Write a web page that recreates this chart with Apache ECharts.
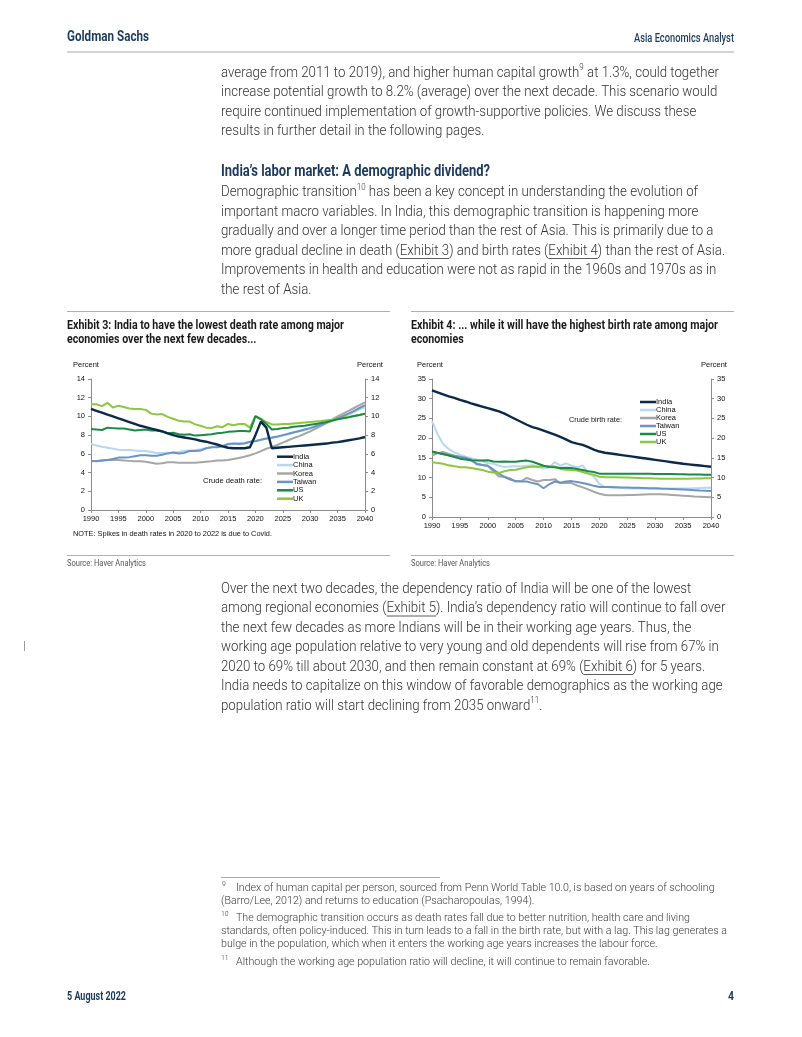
<!DOCTYPE html>
<html><head><meta charset="utf-8">
<script src="https://cdn.jsdelivr.net/npm/echarts@6/dist/echarts.min.js"></script>
<style>html,body{margin:0;padding:0;background:#fff}#c{width:802px;height:1037px}</style>
</head><body><div id="c"></div><script>
// ---------- DATA ----------
const years = [1990,1991,1992,1993,1994,1995,1996,1997,1998,1999,2000,2001,2002,2003,2004,2005,2006,2007,2008,2009,2010,2011,2012,2013,2014,2015,2016,2017,2018,2019,2020,2021,2022,2023,2024,2025,2026,2027,2028,2029,2030,2031,2032,2033,2034,2035,2036,2037,2038,2039,2040];
const seriesNames = ['India','China','Korea','Taiwan','US','UK'];

const deathIndia = [10.8,10.6,10.4,10.2,10.0,9.8,9.6,9.4,9.2,9.0, 8.85,8.7,8.55,8.4,8.2,8.0,7.85,7.75,7.65,7.55, 7.4,7.3,7.15,7.0,6.8,6.65,6.6,6.6,6.6,6.7, 8.0,9.45,8.8,6.6,6.65,6.7,6.75,6.8,6.85,6.9, 6.95,7.0,7.05,7.1,7.2,7.25,7.35,7.45,7.55,7.65,7.8];
const deathChina = [7.05,6.9,6.75,6.65,6.55,6.45,6.4,6.4,6.35,6.3, 6.3,6.2,6.1,6.1,6.1,6.15,6.2,6.3,6.35,6.4, 6.5,6.6,6.7,6.8,6.9,7.0,7.1,7.15,7.2,7.3, 7.4,7.5,7.6,7.7,7.8,7.95,8.1,8.25,8.4,8.55, 8.7,8.9,9.1,9.3,9.5,9.7,9.95,10.2,10.45,10.75,11.0];
const deathKorea = [5.2,5.25,5.3,5.35,5.35,5.35,5.3,5.25,5.2,5.2, 5.15,5.05,4.95,5.0,5.1,5.1,5.05,5.05,5.05,5.05, 5.1,5.15,5.2,5.3,5.3,5.35,5.45,5.55,5.7,5.85, 6.05,6.3,6.55,6.75,6.95,7.2,7.45,7.7,7.9,8.15, 8.4,8.7,9.0,9.3,9.65,10.0,10.3,10.6,10.9,11.2,11.5];
const deathTaiwan = [5.25,5.2,5.3,5.35,5.45,5.6,5.6,5.65,5.75,5.85, 5.85,5.8,5.8,5.9,6.05,6.15,6.05,6.1,6.3,6.3, 6.35,6.6,6.7,6.7,6.8,7.05,7.1,7.05,7.1,7.3, 7.35,7.5,7.65,7.75,7.85,8.0,8.15,8.3,8.45,8.6, 8.75,8.95,9.15,9.35,9.55,9.8,10.05,10.3,10.6,10.9,11.2];
const deathUS = [8.65,8.6,8.55,8.8,8.75,8.7,8.7,8.6,8.5,8.55, 8.6,8.5,8.5,8.4,8.2,8.25,8.1,8.05,8.1,7.95, 8.0,8.05,8.1,8.2,8.25,8.35,8.4,8.45,8.45,8.4, 10.0,9.7,9.2,8.6,8.65,8.75,8.8,8.9,8.95,9.0, 9.1,9.2,9.3,9.4,9.55,9.7,9.8,9.9,10.05,10.15,10.3];
const deathUK = [11.3,11.3,11.1,11.45,10.95,11.15,11.0,10.85,10.8,10.8, 10.7,10.3,10.2,10.25,9.95,9.75,9.55,9.45,9.45,9.15, 9.0,8.8,8.75,8.95,8.85,9.2,9.05,9.2,9.2,8.8, 10.05,9.75,9.4,9.15,9.15,9.2,9.2,9.25,9.3,9.35, 9.4,9.45,9.5,9.6,9.65,9.75,9.85,9.95,10.05,10.15,10.3];

const birthIndia = [32.1,31.6,31.1,30.6,30.2,29.7,29.3,28.8,28.4,28.0, 27.6,27.2,26.8,26.2,25.5,24.8,24.1,23.4,22.8,22.4, 21.9,21.4,20.9,20.3,19.7,19.0,18.6,18.3,17.7,17.1, 16.6,16.3,16.1,15.9,15.7,15.5,15.3,15.1,14.9,14.7, 14.5,14.3,14.1,13.9,13.7,13.5,13.35,13.2,13.05,12.9,12.75];
const birthChina = [24.3,21.0,18.5,17.2,16.4,15.8,15.3,14.9,14.6,14.2, 13.7,13.5,13.0,12.7,12.8,12.9,12.9,13.0,13.1,12.9, 12.3,12.6,13.9,13.0,13.6,13.0,12.6,13.1,11.1,10.3, 8.4,7.6,7.5,7.4,7.35,7.3,7.25,7.2,7.2,7.15, 7.15,7.15,7.15,7.2,7.2,7.25,7.25,7.3,7.35,7.4,7.45];
const birthKorea = [15.6,16.2,16.5,16.0,15.6,15.3,14.8,14.3,13.6,13.2, 13.0,11.6,10.3,10.2,9.8,9.0,9.1,9.9,9.4,9.0, 9.4,9.4,9.6,8.6,8.6,8.6,8.0,7.5,7.0,6.4, 5.9,5.6,5.5,5.5,5.5,5.55,5.6,5.65,5.7,5.75, 5.8,5.75,5.7,5.6,5.5,5.4,5.3,5.2,5.15,5.1,5.0];
const birthTaiwan = [16.5,16.2,15.9,15.7,15.5,15.2,15.0,14.6,13.4,13.2, 13.0,12.0,11.0,10.1,9.5,9.1,9.0,9.0,8.6,8.3, 7.3,8.3,9.0,8.7,9.0,9.1,8.9,8.6,8.3,7.9, 7.6,7.6,7.6,7.55,7.5,7.5,7.45,7.4,7.35,7.3, 7.3,7.2,7.15,7.1,7.05,7.0,6.9,6.8,6.7,6.65,6.6];
const birthUS = [16.6,16.3,16.0,15.6,15.2,14.8,14.6,14.4,14.3,14.3, 14.4,14.1,14.0,14.1,14.0,14.0,14.2,14.3,14.0,13.5, 13.0,12.7,12.6,12.4,12.5,12.4,12.2,11.9,11.6,11.4, 11.0,11.0,11.0,11.0,11.0,11.0,11.0,10.95,10.95,10.95, 10.9,10.9,10.9,10.9,10.85,10.85,10.8,10.8,10.75,10.7,10.7];
const birthUK = [13.9,13.7,13.5,13.1,12.9,12.6,12.6,12.4,12.2,11.9, 11.5,11.3,11.2,11.6,11.9,12.0,12.3,12.6,12.8,12.7, 12.9,12.9,12.8,12.2,12.0,11.9,11.8,11.4,11.0,10.7, 10.2,10.1,10.1,10.05,10.0,10.0,9.95,9.9,9.85,9.8, 9.75,9.7,9.7,9.7,9.7,9.7,9.7,9.75,9.75,9.8,9.8];

// ---------- STYLE ----------
const colors = {India:'#0b2a4a', China:'#b8d8f0', Korea:'#a6a6a6', Taiwan:'#6b93c6', US:'#1b8a46', UK:'#8dc63f'};
const widths = {India:2.4, China:2, Korea:2, Taiwan:2, US:2, UK:2};
const NAVY = '#1d3a5e';
const BODY = 'Roboto, "Liberation Sans", Arial, sans-serif';
const CHARTFONT = '"Liberation Sans", Arial, sans-serif';

const chart = echarts.init(document.getElementById('c'), null, {renderer:'canvas', width:802, height:1037});
const mctx = document.createElement('canvas').getContext('2d');
function fstr(weight, size, family){ return weight + ' ' + size + 'px ' + family; }
function norm(s){ return typeof s === 'string' ? {t:s} : s; }
function measureSegs(segs, cfg){
  let w = 0;
  segs.forEach(s => { const o = norm(s); mctx.font = fstr(cfg.weight, o.sup ? cfg.supSize : cfg.size, cfg.family); w += mctx.measureText(o.t).width; });
  return w;
}
const G = [];
function textLine(segs, x, y, cfg, scale){
  let cx = x;
  segs.forEach(s => {
    const o = norm(s);
    const size = o.sup ? cfg.supSize : cfg.size;
    const font = fstr(cfg.weight, size, cfg.family);
    mctx.font = font;
    const w = mctx.measureText(o.t).width * scale;
    G.push({type:'text', x:cx, y: o.sup ? y - cfg.size*0.33 : y, scaleX: scale, silent:true,
      style:{text:o.t, font:font, fill:cfg.fill, textAlign:'left', textVerticalAlign:'middle'}});
    if (o.u) G.push({type:'line', silent:true, shape:{x1:cx, y1:y + cfg.size*0.5, x2:cx + w, y2:y + cfg.size*0.5}, style:{stroke:cfg.fill, lineWidth:0.8}});
    cx += w;
  });
}
function fitText(text, x, y, cfg, target, align){
  mctx.font = fstr(cfg.weight, cfg.size, cfg.family);
  const sc = target / mctx.measureText(text).width;
  G.push({type:'text', x:x, y:y, scaleX:sc, silent:true,
    style:{text:text, font:fstr(cfg.weight, cfg.size, cfg.family), fill:cfg.fill, textAlign:align||'left', textVerticalAlign:'middle'}});
  return sc;
}
function rule(x1, y1, x2, y2, color, w){ G.push({type:'line', silent:true, shape:{x1,y1,x2,y2}, style:{stroke:color, lineWidth:w}}); }

// ---------- PAGE TEXT ----------
const bodyCfg = {weight:'300', size:15, supSize:9, family:BODY, fill:'#333'};
const para1 = [
  ['average from 2011 to 2019), and higher human capital growth', {t:'9', sup:true}, ' at 1.3%, could together'],
  ['increase potential growth to 8.2% (average) over the next decade. This scenario would'],
  ['require continued implementation of growth-supportive policies. We discuss these'],
  ['results in further detail in the following pages.']
];
const para2 = [
  ['Demographic transition', {t:'10', sup:true}, ' has been a key concept in understanding the evolution of'],
  ['important macro variables. In India, this demographic transition is happening more'],
  ['gradually and over a longer time period than the rest of Asia. This is primarily due to a'],
  ['more gradual decline in death (', {t:'Exhibit 3', u:true}, ') and birth rates (', {t:'Exhibit 4', u:true}, ') than the rest of Asia.'],
  ['Improvements in health and education were not as rapid in the 1960s and 1970s as in'],
  ['the rest of Asia.']
];
const para3 = [
  ['Over the next two decades, the dependency ratio of India will be one of the lowest'],
  ['among regional economies (', {t:'Exhibit 5', u:true}, '). India\u2019s dependency ratio will continue to fall over'],
  ['the next few decades as more Indians will be in their working age years. Thus, the'],
  ['working age population relative to very young and old dependents will rise from 67% in'],
  ['2020 to 69% till about 2030, and then remain constant at 69% (', {t:'Exhibit 6', u:true}, ') for 5 years.'],
  ['India needs to capitalize on this window of favorable demographics as the working age'],
  ['population ratio will start declining from 2035 onward', {t:'11', sup:true}, '.']
];
const bodyScale = 498 / measureSegs(para1[0], bodyCfg);
para1.forEach((l, i) => textLine(l, 221, 73 + i*19.5, bodyCfg, bodyScale));
para2.forEach((l, i) => textLine(l, 221, 192.5 + i*19.5, bodyCfg, bodyScale));
para3.forEach((l, i) => textLine(l, 221, 589 + i*19.5, bodyCfg, bodyScale));

// header / headings
fitText('Goldman Sachs', 67, 37, {weight:'bold', size:15, family:BODY, fill:NAVY}, 82);
fitText('Asia Economics Analyst', 734, 38.5, {weight:'500', size:12, family:BODY, fill:NAVY}, 100, 'right');
rule(67, 52, 734, 52, '#a8a8a8', 1.2);
fitText('India\u2019s labor market: A demographic dividend?', 221, 172, {weight:'bold', size:16, family:BODY, fill:NAVY}, 269);
fitText('5 August 2022', 67, 997, {weight:'bold', size:12.5, family:BODY, fill:NAVY}, 59);
fitText('4', 734, 997, {weight:'bold', size:12.5, family:BODY, fill:NAVY}, 6, 'right');
rule(24.5, 641, 24.5, 651, '#9a9a9a', 1);

// exhibit titles
const exCfg = {weight:'bold', size:13, family:BODY, fill:'#1a1a1a'};
rule(67, 311.5, 390, 311.5, '#b0b0b0', 1);
rule(411, 311.5, 734, 311.5, '#b0b0b0', 1);
const ex3s = fitText('Exhibit 3: India to have the lowest death rate among major', 67, 325.5, exCfg, 277);
textLine(['economies over the next few decades...'], 67, 339.5, exCfg, ex3s);
const ex4s = fitText('Exhibit 4: ... while it will have the highest birth rate among major', 411, 325.5, exCfg, 307);
textLine(['economies'], 411, 339.5, exCfg, ex4s);
fitText('NOTE: Spikes in death rates in 2020 to 2022 is due to Covid.', 73, 534, {weight:'normal', size:7.5, family:CHARTFONT, fill:'#111'}, 199);
rule(67, 555.5, 390, 555.5, '#b0b0b0', 1);
rule(411, 555.5, 734, 555.5, '#b0b0b0', 1);
fitText('Source: Haver Analytics', 67, 564, {weight:'normal', size:9, family:BODY, fill:'#555'}, 79);
fitText('Source: Haver Analytics', 411, 564, {weight:'normal', size:9, family:BODY, fill:'#555'}, 79);
fitText('Crude death rate:', 262, 481, {weight:'normal', size:7.5, family:CHARTFONT, fill:'#111'}, 59, 'right');
fitText('Crude birth rate:', 622, 419.5, {weight:'normal', size:7.5, family:CHARTFONT, fill:'#111'}, 53, 'right');

// footnotes
const fnCfg = {weight:'300', size:11, supSize:7, family:BODY, fill:'#3a3a3a'};
rule(221, 877.5, 440, 877.5, '#a8a8a8', 1);
const fnScale = 506 / measureSegs(['standards, often policy-induced. This in turn leads to a fall in the birth rate, but with a lag. This lag generates a'], fnCfg);
textLine([{t:'9', sup:true}], 222, 888, fnCfg, fnScale);
textLine(['Index of human capital per person, sourced from Penn World Table 10.0, is based on years of schooling'], 236, 888, fnCfg, fnScale);
textLine(['(Barro/Lee, 2012) and returns to education (Psacharopoulas, 1994).'], 221, 901, fnCfg, fnScale);
textLine([{t:'10', sup:true}], 221, 918, fnCfg, fnScale);
textLine(['The demographic transition occurs as death rates fall due to better nutrition, health care and living'], 236, 918, fnCfg, fnScale);
textLine(['standards, often policy-induced. This in turn leads to a fall in the birth rate, but with a lag. This lag generates a'], 221, 931, fnCfg, fnScale);
textLine(['bulge in the population, which when it enters the working age years increases the labour force.'], 221, 944, fnCfg, fnScale);
textLine([{t:'11', sup:true}], 221, 962, fnCfg, fnScale);
textLine(['Although the working age population ratio will decline, it will continue to remain favorable.'], 236, 962, fnCfg, fnScale);

// ---------- CHARTS ----------
const axisCol = '#8c8c8c';
const lbl = {fontSize:7.5, fontFamily:CHARTFONT, color:'#111'};
function xAx(g){ return {gridIndex:g, type:'value', min:1990, max:2040, interval:5,
  axisLine:{show:true, onZero:false, lineStyle:{color:axisCol, width:1}}, axisTick:{show:true, length:3, lineStyle:{color:axisCol}},
  splitLine:{show:false}, axisLabel:{...lbl, margin:5, formatter:v => String(v)}}; }
function yAx(g, max, itv, pos, pad){ return {gridIndex:g, type:'value', min:0, max:max, interval:itv, position:pos,
  name:'Percent', nameLocation:'end', nameGap:14, nameTextStyle:{...lbl, align:'center', verticalAlign:'middle', padding:pad},
  axisLine:{show:true, lineStyle:{color:axisCol, width:1}}, axisTick:{show:true, length:3, lineStyle:{color:axisCol}},
  splitLine:{show:false}, axisLabel:{...lbl, margin:6}}; }

const deathData = {India:deathIndia, China:deathChina, Korea:deathKorea, Taiwan:deathTaiwan, US:deathUS, UK:deathUK};
const birthData = {India:birthIndia, China:birthChina, Korea:birthKorea, Taiwan:birthTaiwan, US:birthUS, UK:birthUK};
const drawOrder = ['China','Korea','Taiwan','UK','US','India'];
const series = [];
[[deathData, 0, 0], [birthData, 1, 2]].forEach(([d, xi, yi]) => {
  drawOrder.forEach(n => series.push({name:n, type:'line', xAxisIndex:xi, yAxisIndex:yi, showSymbol:false, symbol:'none',
    color:colors[n], itemStyle:{color:colors[n]}, lineStyle:{color:colors[n], width:widths[n]}, silent:true,
    data: years.map((yr, i) => [yr, d[n][i]])}));
});
function legendCfg(left, top, lh){ return {data:seriesNames, orient:'vertical', left:left, top:top, padding:0, icon:'rect',
  itemWidth:16, itemHeight:2.5, itemGap:0, selectedMode:false,
  textStyle:{fontSize:7.5, fontFamily:CHARTFONT, color:'#111', lineHeight:lh, padding:[0,0,0,-5]}}; }

chart.setOption({
  animation:false,
  backgroundColor:'#fff',
  grid:[{left:91, top:379, width:274, height:131}, {left:432, top:379, width:279, height:138}],
  xAxis:[xAx(0), xAx(1)],
  yAxis:[yAx(0,14,2,'left',[0,10,0,0]), yAx(0,14,2,'right',[0,0,0,10]), yAx(1,35,5,'left',[0,4,0,0]), yAx(1,35,5,'right',[0,0,0,6])],
  legend:[legendCfg(277, 452.5, 8.4), legendCfg(640, 398, 7.8)],
  series: series,
  graphic: G
});
</script></body></html>
